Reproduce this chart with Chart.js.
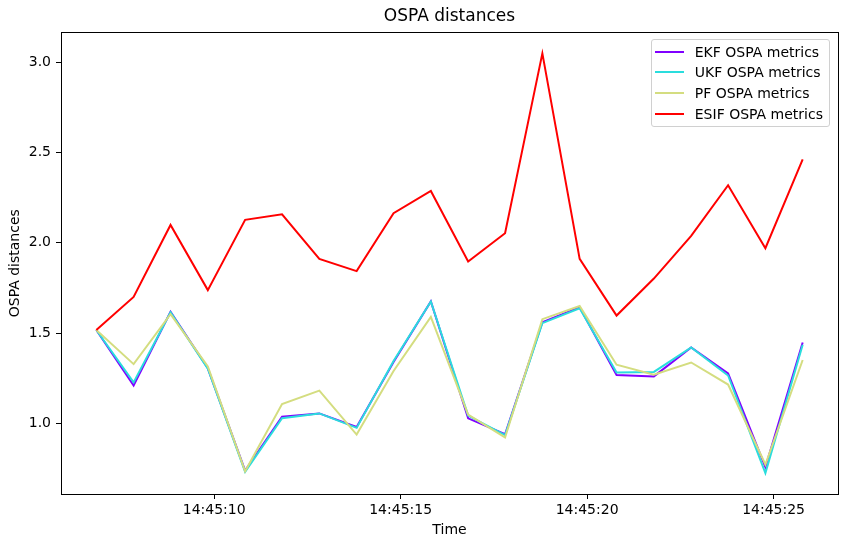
<!DOCTYPE html>
<html>
<head>
<meta charset="utf-8">
<script src="https://cdn.jsdelivr.net/npm/chart.js@4"></script>
<style>
  body { margin: 0; background: #fff; }
  #wrap { position: relative; width: 846px; height: 547px; }
  #legend {
    position: absolute; box-sizing: border-box;
    background: rgba(255,255,255,0.8); border: 1px solid #d0d0d0; border-radius: 3px;
    padding: 1px 6px 2px 3px;
    font-family: 'DejaVu Sans', sans-serif; font-size: 14px; color: #000;
  }
  #legend .row { display: flex; align-items: center; height: 20.7px; white-space: nowrap; }
  #legend .sw { width: 29px; height: 2px; margin-right: 11px; }
</style>
</head>
<body>
<div id="wrap">
  <canvas id="ospaChart" width="846" height="547"></canvas>
  <div id="legend"></div>
</div>
<script>
// seconds after 14:45:00 for each sample
const timeSec = [6.84, 7.84, 8.83, 9.83, 10.83, 11.82, 12.82, 13.82, 14.81, 15.81,
                 16.81, 17.80, 18.80, 19.80, 20.79, 21.79, 22.79, 23.78, 24.78, 25.78];

const ekfOspa  = [1.517, 1.210, 1.618, 1.305, 0.738, 1.037, 1.055, 0.980, 1.340, 1.675,
                  1.028, 0.940, 1.560, 1.643, 1.268, 1.260, 1.420, 1.277, 0.757, 1.448];
const ukfOspa  = [1.517, 1.227, 1.615, 1.303, 0.732, 1.028, 1.055, 0.975, 1.345, 1.675,
                  1.043, 0.935, 1.555, 1.637, 1.282, 1.285, 1.420, 1.265, 0.725, 1.435];
const pfOspa   = [1.517, 1.328, 1.605, 1.315, 0.735, 1.107, 1.181, 0.938, 1.290, 1.590,
                  1.048, 0.922, 1.577, 1.650, 1.325, 1.270, 1.337, 1.215, 0.772, 1.351];
const esifOspa = [1.517, 1.700, 2.099, 1.738, 2.127, 2.158, 1.911, 1.843, 2.164, 2.287,
                  1.896, 2.053, 3.049, 1.911, 1.597, 1.802, 2.038, 2.319, 1.970, 2.462];

const xTicks = [10, 15, 20, 25];
const yTicks = [1.0, 1.5, 2.0, 2.5, 3.0];

const seriesNames = ['EKF OSPA metrics', 'UKF OSPA metrics', 'PF OSPA metrics', 'ESIF OSPA metrics'];
const seriesColors = ['#8000ff', '#2adddd', '#d4dd80', '#ff0000'];

// matplotlib-like 5% margins
function padRange(vals) {
  const lo = Math.min(...vals), hi = Math.max(...vals);
  const m = (hi - lo) * 0.05;
  return [lo - m, hi + m];
}
const [xMin, xMax] = padRange(timeSec);
const [yMin, yMax] = padRange([...ekfOspa, ...ukfOspa, ...pfOspa, ...esifOspa]);

const toPoints = arr => arr.map((v, i) => ({ x: timeSec[i], y: v }));
const allSeries = [ekfOspa, ukfOspa, pfOspa, esifOspa];

const FONT = "'DejaVu Sans', sans-serif";

// full box around the plot, like matplotlib spines
const frameBox = {
  id: 'frameBox',
  afterDraw(chart) {
    const { ctx, chartArea: a } = chart;
    ctx.save();
    ctx.strokeStyle = '#000';
    ctx.lineWidth = 1;
    ctx.strokeRect(Math.round(a.left) + 0.5, Math.round(a.top) + 0.5,
                   Math.round(a.right - a.left), Math.round(a.bottom - a.top));
    ctx.restore();
  }
};

// html legend placed in the upper right of the plot area
const htmlLegend = {
  id: 'htmlLegend',
  afterUpdate(chart) {
    const box = document.getElementById('legend');
    box.innerHTML = '';
    chart.data.datasets.forEach(ds => {
      const row = document.createElement('div');
      row.className = 'row';
      const sw = document.createElement('span');
      sw.className = 'sw';
      sw.style.background = ds.borderColor;
      const txt = document.createElement('span');
      txt.textContent = ds.label;
      row.appendChild(sw);
      row.appendChild(txt);
      box.appendChild(row);
    });
    const a = chart.chartArea;
    box.style.top = (a.top + 7) + 'px';
    box.style.right = (846 - a.right + 8) + 'px';
  }
};

new Chart(document.getElementById('ospaChart'), {
  type: 'line',
  data: {
    datasets: allSeries.map((arr, i) => ({
      label: seriesNames[i],
      data: toPoints(arr),
      borderColor: seriesColors[i],
      backgroundColor: seriesColors[i],
      borderWidth: 2,
      pointRadius: 0,
      tension: 0,
      fill: false,
      order: allSeries.length - i
    }))
  },
  options: {
    responsive: false,
    animation: false,
    layout: { padding: { left: 0, right: 8, top: 0, bottom: 0 } },
    plugins: {
      legend: { display: false },
      tooltip: { enabled: false },
      title: {
        display: true,
        text: 'OSPA distances',
        fullSize: false,
        color: '#000',
        font: { family: FONT, size: 17, weight: 'normal' },
        padding: { top: 6, bottom: 6 }
      }
    },
    scales: {
      x: {
        type: 'linear',
        min: xMin,
        max: xMax,
        afterBuildTicks: s => { s.ticks = xTicks.map(v => ({ value: v })); },
        afterFit: s => { s.height = 53; },
        grid: { drawOnChartArea: false, drawTicks: true, tickLength: 5, color: '#000' },
        border: { display: false },
        ticks: {
          color: '#000',
          padding: 3,
          maxRotation: 0,
          font: { family: FONT, size: 14 },
          callback: v => '14:45:' + String(Math.round(v)).padStart(2, '0')
        },
        title: {
          display: true,
          text: 'Time',
          color: '#000',
          font: { family: FONT, size: 14 },
          padding: { top: 0, bottom: 8 }
        }
      },
      y: {
        min: yMin,
        max: yMax,
        afterBuildTicks: s => { s.ticks = yTicks.map(v => ({ value: v })); },
        afterFit: s => { s.width = 61; },
        grid: { drawOnChartArea: false, drawTicks: true, tickLength: 5, color: '#000' },
        border: { display: false },
        ticks: {
          color: '#000',
          padding: 5,
          font: { family: FONT, size: 14 },
          callback: v => v.toFixed(1)
        },
        title: {
          display: true,
          text: 'OSPA distances',
          color: '#000',
          font: { family: FONT, size: 14 },
          padding: { top: 7, bottom: 0 }
        }
      }
    }
  },
  plugins: [frameBox, htmlLegend]
});
</script>
</body>
</html>
